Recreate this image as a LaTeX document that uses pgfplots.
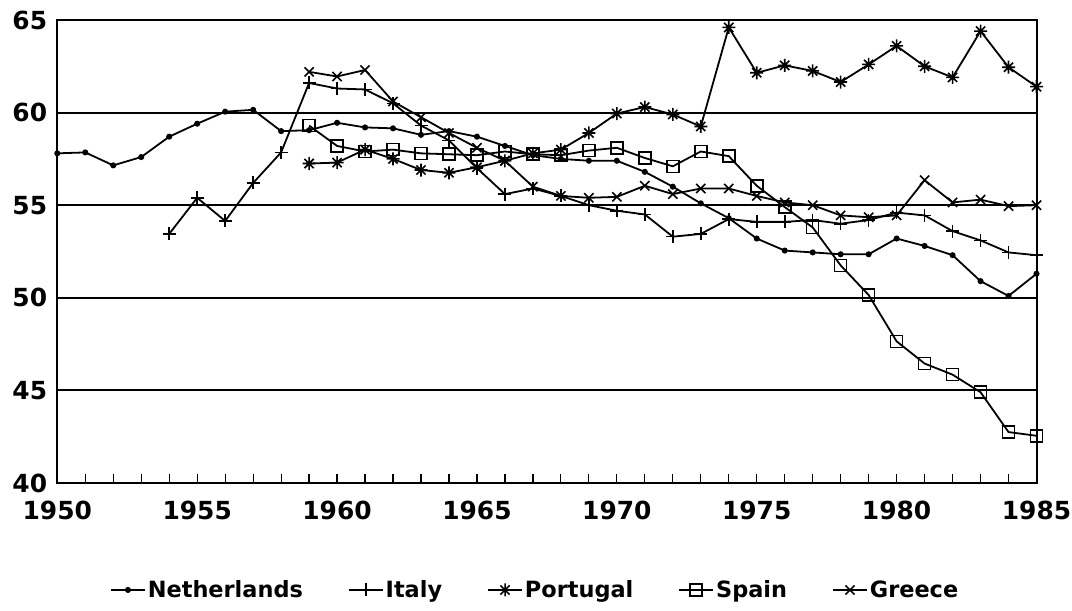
\documentclass[border=0pt]{standalone}
\usepackage{fontspec}
\setmainfont{DejaVu Sans}
\usepackage{pgfplots}
\pgfplotsset{compat=1.18}

\pgfdeclareplotmark{star8}{%
  \pgfpathmoveto{\pgfqpoint{-\pgfplotmarksize}{0pt}}\pgfpathlineto{\pgfqpoint{\pgfplotmarksize}{0pt}}%
  \pgfpathmoveto{\pgfqpoint{0pt}{-\pgfplotmarksize}}\pgfpathlineto{\pgfqpoint{0pt}{\pgfplotmarksize}}%
  \pgfpathmoveto{\pgfqpoint{-0.707\pgfplotmarksize}{-0.707\pgfplotmarksize}}\pgfpathlineto{\pgfqpoint{0.707\pgfplotmarksize}{0.707\pgfplotmarksize}}%
  \pgfpathmoveto{\pgfqpoint{-0.707\pgfplotmarksize}{0.707\pgfplotmarksize}}\pgfpathlineto{\pgfqpoint{0.707\pgfplotmarksize}{-0.707\pgfplotmarksize}}%
  \pgfusepathqstroke}

\begin{document}
\begin{tikzpicture}
\path[use as bounding box] (-57.3bp,-128bp) rectangle (1014.7bp,483bp);
\begin{axis}[
  at={(0,0)}, anchor=south west,
  scale only axis, width=979.2bp, height=463bp,
  xmin=1950, xmax=1985, ymin=40, ymax=65,
  xtick={1950,1955,...,1985}, minor x tick num=4,
  ytick={40,45,...,65},
  ymajorgrids, major grid style={black, line width=2bp},
  axis line style={black, line width=2bp},
  xtick pos=left,
  ytick style={draw=none},
  xtick style={black, line width=1.2bp},
  tick align=inside, major tick length=9bp, minor tick length=9bp,
  /pgf/number format/1000 sep={},
  /pgf/number format/assume math mode=true,
  ticklabel style={font=\fontsize{25}{25}\selectfont\bfseries, inner sep=1bp},
  x tick label style={yshift=-17bp},
  y tick label style={xshift=-9bp},
  every axis plot/.append style={black, line width=1.8bp, mark options={solid, line width=1.6bp}},
  legend columns=5,
  legend style={at={(axis description cs:0.488,-0.231)}, anchor=center, draw=none, fill=none,
    font=\fontsize{22.5}{23}\selectfont\bfseries,
    /tikz/every even column/.append style={column sep=43bp}},
  legend image code/.code={\draw[mark repeat=2,mark phase=2,#1] plot coordinates {(0bp,0bp)(17bp,0bp)(34bp,0bp)};},
]
% Netherlands
\addplot[mark=*, mark size=2.2bp] coordinates {
(1950,57.8)(1951,57.85)(1952,57.15)(1953,57.6)(1954,58.7)(1955,59.4)(1956,60.05)(1957,60.15)(1958,59.0)(1959,59.05)
(1960,59.45)(1961,59.2)(1962,59.15)(1963,58.8)(1964,59.0)(1965,58.7)(1966,58.2)(1967,57.7)(1968,57.5)(1969,57.4)
(1970,57.4)(1971,56.8)(1972,56.0)(1973,55.1)(1974,54.3)(1975,53.2)(1976,52.55)(1977,52.45)(1978,52.35)(1979,52.35)
(1980,53.2)(1981,52.8)(1982,52.3)(1983,50.9)(1984,50.1)(1985,51.3)};
\addlegendentry{Netherlands}
% Italy
\addplot[mark=+, mark size=6.5bp] coordinates {
(1954,53.45)(1955,55.4)(1956,54.15)(1957,56.2)(1958,57.85)(1959,61.6)(1960,61.3)(1961,61.25)(1962,60.5)(1963,59.3)
(1964,58.5)(1965,57.0)(1966,55.6)(1967,55.9)(1968,55.5)(1969,55.0)(1970,54.7)(1971,54.5)(1972,53.3)(1973,53.45)
(1974,54.25)(1975,54.1)(1976,54.1)(1977,54.2)(1978,54.0)(1979,54.2)(1980,54.6)(1981,54.45)(1982,53.6)(1983,53.1)
(1984,52.45)(1985,52.3)};
\addlegendentry{Italy}
% Portugal
\addplot[mark=star8, mark size=6.5bp] coordinates {
(1959,57.25)(1960,57.3)(1961,58.0)(1962,57.5)(1963,56.9)(1964,56.75)(1965,57.05)(1966,57.4)(1967,57.8)(1968,58.0)
(1969,58.9)(1970,59.95)(1971,60.3)(1972,59.9)(1973,59.25)(1974,64.6)(1975,62.15)(1976,62.55)(1977,62.25)(1978,61.65)
(1979,62.6)(1980,63.6)(1981,62.5)(1982,61.9)(1983,64.4)(1984,62.45)(1985,61.4)};
\addlegendentry{Portugal}
% Spain
\addplot[mark=square, mark size=6bp] coordinates {
(1959,59.3)(1960,58.2)(1961,57.9)(1962,58.0)(1963,57.8)(1964,57.75)(1965,57.7)(1966,57.9)(1967,57.75)(1968,57.7)
(1969,57.95)(1970,58.1)(1971,57.55)(1972,57.1)(1973,57.9)(1974,57.65)(1975,56.05)(1976,54.9)(1977,53.8)(1978,51.75)
(1979,50.15)(1980,47.65)(1981,46.45)(1982,45.85)(1983,44.9)(1984,42.75)(1985,42.55)};
\addlegendentry{Spain}
% Greece
\addplot[mark=x, mark size=6.5bp] coordinates {
(1959,62.2)(1960,61.95)(1961,62.3)(1962,60.6)(1963,59.75)(1964,58.9)(1965,58.1)(1966,57.4)(1967,56.0)(1968,55.5)
(1969,55.4)(1970,55.45)(1971,56.05)(1972,55.6)(1973,55.9)(1974,55.9)(1975,55.5)(1976,55.15)(1977,55.0)(1978,54.45)
(1979,54.35)(1980,54.45)(1981,56.35)(1982,55.15)(1983,55.3)(1984,54.95)(1985,55.0)};
\addlegendentry{Greece}
\end{axis}
\end{tikzpicture}
\end{document}
